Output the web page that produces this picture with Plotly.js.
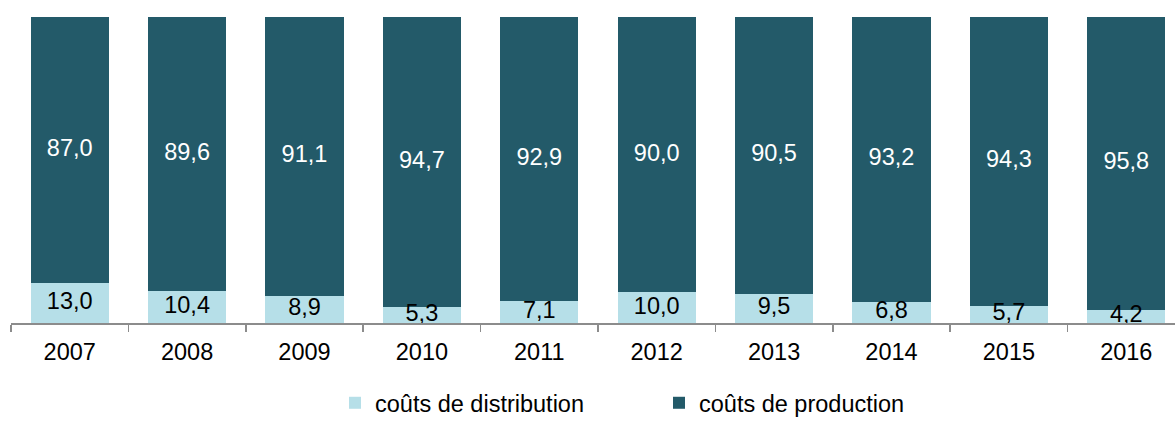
<!DOCTYPE html>
<html>
<head>
<meta charset="utf-8">
<script src="https://cdn.plot.ly/plotly-3.0.1.min.js"></script>
<style>html,body{margin:0;padding:0;background:#fff;}#chart{width:1175px;height:425px;}</style>
</head>
<body>
<div id="chart"></div>
<script>
const years = ['2007','2008','2009','2010','2011','2012','2013','2014','2015','2016'];
const distribution = [13.0, 10.4, 8.9, 5.3, 7.1, 10.0, 9.5, 6.8, 5.7, 4.2];
const production = [87.0, 89.6, 91.1, 94.7, 92.9, 90.0, 90.5, 93.2, 94.3, 95.8];
const seriesNames = ['coûts de distribution', 'coûts de production'];

const fmt = v => v.toFixed(1).replace('.', ',');
const FONT = 'Liberation Sans, Arial, sans-serif';
const DARK = '#235a69';
const LIGHT = '#b6dfe8';

const traces = [
  {type:'bar', x: years, y: distribution, name: seriesNames[0], marker:{color: LIGHT}, width: 0.667, hoverinfo:'none'},
  {type:'bar', x: years, y: production, name: seriesNames[1], marker:{color: DARK}, width: 0.667, hoverinfo:'none'},
  {type:'scatter', mode:'text', x: years, y: distribution.map(v => v/2), text: distribution.map(fmt),
   textfont:{family: FONT, size: 23.5, color:'#000'}, showlegend:false, hoverinfo:'none', cliponaxis:false},
  {type:'scatter', mode:'text', x: years, y: production.map((v,i) => distribution[i] + v/2), text: production.map(fmt),
   textfont:{family: FONT, size: 23.5, color:'#fff'}, showlegend:false, hoverinfo:'none', cliponaxis:false}
];

const layout = {
  width: 1175, height: 425,
  margin: {l: 11, r: 0, t: 17, b: 102, pad: 0},
  paper_bgcolor: '#fff', plot_bgcolor: '#fff',
  barmode: 'stack',
  font: {family: FONT, size: 23.5, color: '#000'},
  xaxis: {
    type: 'category', range: [-0.5, 9.415],
    showline: true, linecolor: '#8c8c8c', linewidth: 1.5,
    ticks: 'outside', tickson: 'boundaries', ticklen: 7, tickcolor: '#8c8c8c', tickwidth: 1.5,
    ticklabelstandoff: 7,
    showgrid: false, zeroline: false,
    tickfont: {family: FONT, size: 23.5, color: '#000'}
  },
  yaxis: {range: [0, 100], visible: false, showgrid: false, zeroline: false},
  showlegend: true,
  legend: {
    orientation: 'h', xref: 'container', yref: 'container',
    x: 335/1175, xanchor: 'left', y: 0, yanchor: 'bottom',
    font: {family: FONT, size: 23.5, color: '#000'},
    entrywidth: 279, entrywidthmode: 'pixels', traceorder: 'normal'
  }
};

Plotly.newPlot('chart', traces, layout, {staticPlot: true});
</script>
</body>
</html>
